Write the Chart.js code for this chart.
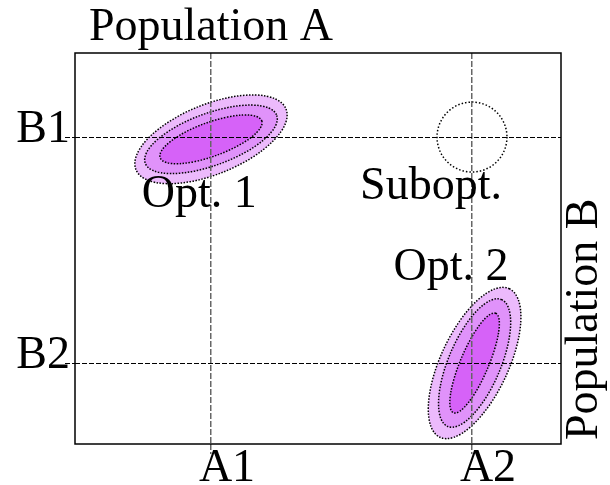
<!DOCTYPE html>
<html>
<head>
<meta charset="utf-8">
<script src="https://cdn.jsdelivr.net/npm/chart.js@4"></script>
<style>
  html, body { margin: 0; padding: 0; background: #fff; }
  #wrap { width: 610px; height: 485px; }
</style>
</head>
<body>
<div id="wrap"><canvas id="myChart"></canvas></div>
<script>
// axis ticks
const xTickValues = [1, 2];
const xTickLabels = ['A1', 'A2'];
const yTickValues = [1, 2];
const yTickLabels = ['B2', 'B1'];

// contour ellipses (centre, semi axes in x units, tilt in degrees, level)
const ellipseX = [1.0, 1.0, 1.0, 2.01, 2.01, 2.01];
const ellipseY = [1.99, 1.99, 1.99, 1.0, 1.0, 1.0];
const ellipseA = [0.310, 0.268, 0.207, 0.314, 0.264, 0.207];
const ellipseB = [0.134, 0.100, 0.065, 0.130, 0.100, 0.054];
const ellipseTilt = [-22, -20, -20, -65, -67, -67];
const ellipseLevel = [0, 1, 2, 0, 1, 2];

// suboptimal point (dotted circle)
const subX = [2];
const subY = [2];
const subR = [0.134];

// text notes
const noteTexts = ['Opt. 1', 'Subopt.', 'Opt. 2'];
const noteX = [0.955, 1.843, 1.92];
const noteY = [1.743, 1.779, 1.42];

const levelColors = ['rgb(236,186,252)', 'rgb(224,146,250)', 'rgb(214,98,248)'];
const serif = "'Liberation Serif', serif";
const fontSize = 46;

const contourPlugin = {
  id: 'contours',
  beforeDraw(chart) {
    const { ctx, scales: { x, y } } = chart;
    const unit = x.getPixelForValue(1) - x.getPixelForValue(0);
    ctx.save();
    for (let i = 0; i < ellipseX.length; i++) {
      ctx.beginPath();
      ctx.ellipse(x.getPixelForValue(ellipseX[i]), y.getPixelForValue(ellipseY[i]),
        ellipseA[i] * unit, ellipseB[i] * unit, ellipseTilt[i] * Math.PI / 180, 0, 2 * Math.PI);
      ctx.fillStyle = levelColors[ellipseLevel[i]];
      ctx.fill();
      ctx.setLineDash([1.5, 1.5]);
      ctx.lineWidth = 1.5;
      ctx.strokeStyle = '#000';
      ctx.stroke();
    }
    for (let i = 0; i < subX.length; i++) {
      ctx.beginPath();
      ctx.arc(x.getPixelForValue(subX[i]), y.getPixelForValue(subY[i]), subR[i] * unit, 0, 2 * Math.PI);
      ctx.setLineDash([1.5, 2]);
      ctx.lineWidth = 1.5;
      ctx.strokeStyle = '#000';
      ctx.stroke();
    }
    ctx.restore();
  },
  afterDraw(chart) {
    const { ctx, chartArea: a, scales: { x, y } } = chart;
    ctx.save();
    // frame
    ctx.setLineDash([]);
    ctx.lineWidth = 1.5;
    ctx.strokeStyle = '#000';
    ctx.strokeRect(a.left, a.top, a.right - a.left, a.bottom - a.top);
    // notes
    ctx.fillStyle = '#000';
    ctx.font = fontSize + 'px ' + serif;
    ctx.textAlign = 'center';
    ctx.textBaseline = 'middle';
    for (let i = 0; i < noteTexts.length; i++) {
      ctx.fillText(noteTexts[i], x.getPixelForValue(noteX[i]), y.getPixelForValue(noteY[i]));
    }
    // axis titles
    ctx.textAlign = 'left';
    ctx.textBaseline = 'alphabetic';
    ctx.fillText('Population A', a.left + 14, a.top - 13);
    ctx.translate(a.right + 36, a.bottom - 4);
    ctx.rotate(-Math.PI / 2);
    ctx.fillText('Population B', 0, 0);
    ctx.restore();
  }
};

const ctx = document.getElementById('myChart').getContext('2d');
const myChart = new Chart(ctx, {
  type: 'scatter',
  data: { datasets: [] },
  options: {
    responsive: true,
    maintainAspectRatio: false,
    animation: false,
    layout: { padding: { top: 53, right: 49, left: 0, bottom: 0 } },
    plugins: { legend: { display: false }, tooltip: { enabled: false } },
    scales: {
      x: {
        type: 'linear',
        min: 0.479,
        max: 2.341,
        afterBuildTicks: (s) => { s.ticks = xTickValues.map(v => ({ value: v })); },
        afterFit: (s) => { s.height = 41; },
        ticks: {
          autoSkip: false,
          maxRotation: 0,
          padding: -13,
          labelOffset: 16,
          color: '#000',
          font: { family: serif, size: fontSize },
          callback: (v) => xTickLabels[xTickValues.indexOf(v)]
        },
        grid: {
          color: '#666',
          lineWidth: 1.5,
          tickLength: 10,
          tickColor: '#666',
          tickWidth: 1.5,
          tickBorderDash: [6, 2]
        },
        border: { display: false, dash: [6, 2] }
      },
      y: {
        type: 'linear',
        min: 0.6416,
        max: 2.372,
        afterBuildTicks: (s) => { s.ticks = yTickValues.map(v => ({ value: v })); },
        afterFit: (s) => { s.width = 75; },
        ticks: {
          autoSkip: false,
          padding: -5,
          labelOffset: -7,
          color: '#000',
          font: { family: serif, size: fontSize },
          callback: (v) => yTickLabels[yTickValues.indexOf(v)]
        },
        grid: {
          color: '#000',
          lineWidth: 1,
          tickLength: 10,
          tickColor: '#000',
          tickWidth: 1,
          tickBorderDash: [5, 2]
        },
        border: { display: false, dash: [5, 2] }
      }
    }
  },
  plugins: [contourPlugin]
});
</script>
</body>
</html>
